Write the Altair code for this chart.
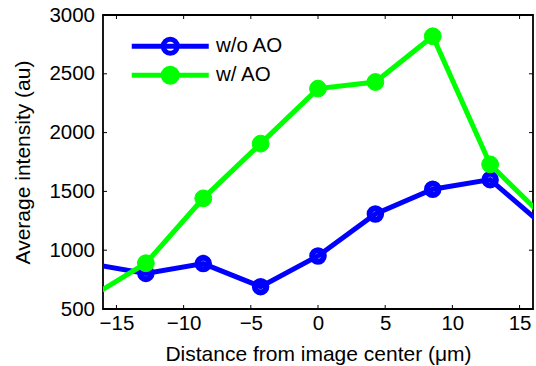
import altair as alt
import pandas as pd

# Data
x_pos = [-17.08, -12.81, -8.54, -4.27, 0.0, 4.27, 8.54, 12.81, 17.08]
wo_ao = [887, 803, 886, 690, 951, 1308, 1518, 1600, 1180]
w_ao = [592, 889, 1441, 1906, 2374, 2430, 2819, 1730, 1249]
series_names = ["w/o AO", "w/ AO"]
x_ticks = [-15, -10, -5, 0, 5, 10, 15]
y_ticks = [500, 1000, 1500, 2000, 2500, 3000]

W, H = 430, 294
FONT = "Liberation Sans"
FS = 20.5
TFS = 21

rows = []
for xv, yv in zip(x_pos, wo_ao):
    rows.append({"x": xv, "y": yv, "series": series_names[0]})
for xv, yv in zip(x_pos, w_ao):
    rows.append({"x": xv, "y": yv, "series": series_names[1]})
df = pd.DataFrame(rows)

xscale = alt.Scale(domain=[-16, 16], nice=False, zero=False)
yscale = alt.Scale(domain=[500, 3000], nice=False, zero=False)
stroke_scale = alt.Scale(domain=series_names, range=["#0000ff", "#00ff00"])
fill_scale = alt.Scale(domain=series_names, range=["rgba(0,0,0,0)", "#00ff00"])

legend_path = "M-5.5,0L5.5,0M1,0A1,1 0 1,1 -1,0A1,1 0 1,1 1,0"
legend = alt.Legend(
    title=None, orient="none", legendX=57, legendY=21, padding=0,
    symbolType=legend_path, symbolSize=196, symbolStrokeWidth=5,
    labelFont=FONT, labelFontSize=FS, labelColor="black", labelOffset=35.5,
    rowPadding=-6,
)

xaxis = alt.Axis(values=x_ticks, ticks=False, domain=False, grid=False, format="d",
                 labelFont=FONT, labelFontSize=FS, labelColor="black", labelPadding=4.5,
                 title="Distance from image center (μm)", titleFont=FONT,
                 titleFontSize=TFS, titleFontWeight="normal", titleColor="black",
                 titlePadding=9)
yaxis = alt.Axis(values=y_ticks, ticks=False, domain=False, grid=False, format="d",
                 labelFont=FONT, labelFontSize=FS, labelColor="black", labelPadding=8.5,
                 title="Average intensity (au)", titleFont=FONT,
                 titleFontSize=TFS, titleFontWeight="normal", titleColor="black",
                 titlePadding=15)

base = alt.Chart(df)

def series_layers(name, size, sw):
    sub = base.transform_filter(alt.datum.series == name)
    line = sub.mark_line(strokeWidth=5, clip=True).encode(
        x=alt.X("x:Q", scale=xscale, axis=xaxis),
        y=alt.Y("y:Q", scale=yscale, axis=yaxis),
        stroke=alt.Stroke("series:N", scale=stroke_scale, legend=legend),
    )
    pts = sub.mark_point(shape="circle", size=size, strokeWidth=sw, opacity=1, clip=True).encode(
        x=alt.X("x:Q", scale=xscale),
        y=alt.Y("y:Q", scale=yscale),
        stroke=alt.Stroke("series:N", scale=stroke_scale, legend=legend),
        fill=alt.Fill("series:N", scale=fill_scale, legend=legend),
    )
    return [line, pts]

xt = pd.DataFrame({"t": x_ticks})
yt = pd.DataFrame({"t": y_ticks})
TL = 4
tick_layers = [
    alt.Chart(xt).mark_rule(color="black", strokeWidth=1).encode(
        x=alt.X("t:Q", scale=xscale), y=alt.value(H), y2=alt.value(H - TL)),
    alt.Chart(xt).mark_rule(color="black", strokeWidth=1).encode(
        x=alt.X("t:Q", scale=xscale), y=alt.value(0), y2=alt.value(TL)),
    alt.Chart(yt).mark_rule(color="black", strokeWidth=1).encode(
        y=alt.Y("t:Q", scale=yscale), x=alt.value(0), x2=alt.value(TL)),
    alt.Chart(yt).mark_rule(color="black", strokeWidth=1).encode(
        y=alt.Y("t:Q", scale=yscale), x=alt.value(W), x2=alt.value(W - TL)),
]

layers = series_layers("w/o AO", 133, 6) + series_layers("w/ AO", 283, 1) + tick_layers

chart = alt.layer(*layers).properties(
    width=W, height=H,
    autosize=alt.AutoSizeParams(type="none"),
    padding={"left": 103, "top": 15, "right": 3, "bottom": 57},
    background="white",
).configure_view(stroke="black", strokeWidth=1.8)

chart.save("out.html", embed_options={"renderer": "svg", "actions": False})
